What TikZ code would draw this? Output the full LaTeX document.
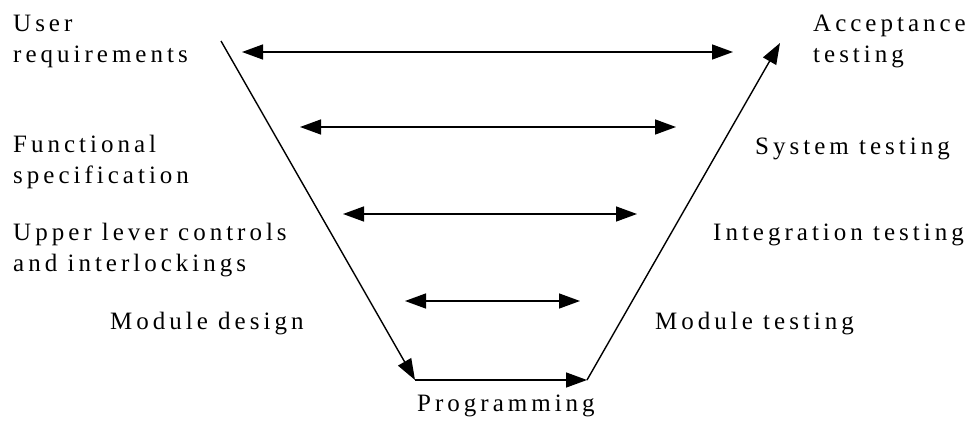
\documentclass[tikz,border=0pt]{standalone}
\usepackage{fontspec}
\setmainfont{Liberation Serif}[LetterSpace=16]
\usetikzlibrary{arrows.meta}
\begin{document}
\begin{tikzpicture}[x=1pt,y=-1pt,
  lbl/.style={inner sep=0pt,font=\fontsize{25}{31}\selectfont,align=left,anchor=base west},
  vline/.style={line width=1.4pt,-{Triangle[length=21pt,width=15pt]}},
  link/.style={line width=1.4pt,{Triangle[length=21pt,width=15pt]}-{Triangle[length=21pt,width=15pt]}}]
\useasboundingbox[fill=white] (0,0) rectangle (976,420);

% left-hand column: specification stages (anchored at last baseline)
\node[lbl] (ur) at (13,63) {User\\requirements};
\node[lbl] (fs) at (13,183) {Functional\\specification};
\node[lbl] (ul) at (13,271) {Upper lever controls\\and interlockings};
\node[lbl] (md) at (110,329) {Module design};

% right-hand column: testing stages
\node[lbl] (at) at (813,63) {Acceptance\\testing};
\node[lbl] (st) at (755,154) {System testing};
\node[lbl] (it) at (713,240) {Integration testing};
\node[lbl] (mt) at (655,329) {Module testing};

\node[lbl] (pg) at (417,411) {Programming};

% the V
\coordinate (vtl) at (221,41);
\coordinate (vbl) at (415,380);
\coordinate (vbr) at (587,380);
\coordinate (vtr) at (780,43);
\draw[vline] (vtl) -- (vbl);
\draw[vline] (vbl) -- (vbr);
\draw[vline] (vbr) -- (vtr);

% correspondences between the two sides
\coordinate (a1) at (242,52);  \coordinate (b1) at (733,52);
\coordinate (a2) at (300,127); \coordinate (b2) at (676,127);
\coordinate (a3) at (343,214); \coordinate (b3) at (637,214);
\coordinate (a4) at (405,301); \coordinate (b4) at (580,301);
\draw[link] (a1) -- (b1);
\draw[link] (a2) -- (b2);
\draw[link] (a3) -- (b3);
\draw[link] (a4) -- (b4);
\end{tikzpicture}
\end{document}
